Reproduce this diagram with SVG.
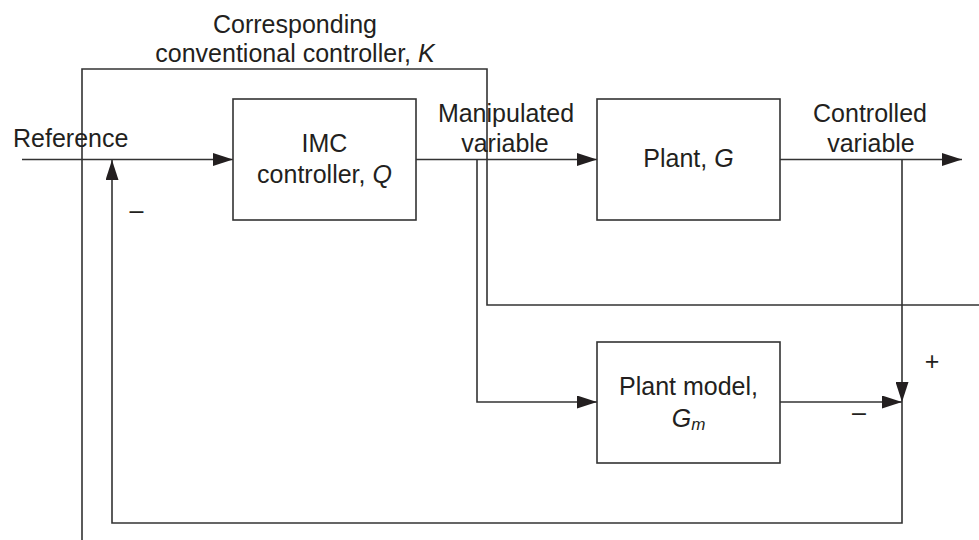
<svg xmlns="http://www.w3.org/2000/svg" width="979" height="540" viewBox="0 0 979 540">
<defs>
<marker id="ah" markerUnits="userSpaceOnUse" markerWidth="20" markerHeight="13" refX="20" refY="6.5" orient="auto">
<path d="M0,0 L20,6.5 L0,13 z" fill="#231f20"/>
</marker>
<style>
.ln{fill:none;stroke:#333;stroke-width:1.6}
.bx{fill:#fff;stroke:#333;stroke-width:1.6}
.t{font-family:"Liberation Sans",Arial,sans-serif;font-size:25px;fill:#231f20}
.c{text-anchor:middle}
.i{font-style:italic}
</style>
</defs>
<rect width="979" height="540" fill="#fff"/>
<g id="K">
<path class="ln" d="M82,540 V69 H487 V305 H979"/>
<text class="t c" x="295" y="33">Corresponding</text>
<text class="t c" x="295" y="62">conventional controller, <tspan class="i">K</tspan></text>
</g>
<g id="connectors">
<path class="ln" d="M22,159.5 H233" marker-end="url(#ah)"/>
<path class="ln" d="M416,159.5 H597" marker-end="url(#ah)"/>
<path class="ln" d="M780,159.5 H962" marker-end="url(#ah)"/>
<path class="ln" d="M477,159.5 V402 H597" marker-end="url(#ah)"/>
<path class="ln" d="M780,402 H902" marker-end="url(#ah)"/>
<path class="ln" d="M902,159.5 V402" marker-end="url(#ah)"/>
<path class="ln" d="M902,402 V523 H112 V160" marker-end="url(#ah)"/>
</g>
<g id="labels">
<text class="t" x="13" y="147">Reference</text>
<text class="t c" x="506" y="122">Manipulated</text>
<text class="t c" x="505" y="152">variable</text>
<text class="t c" x="870" y="122">Controlled</text>
<text class="t c" x="871" y="152">variable</text>
<text class="t c" x="136.5" y="219">–</text>
<text class="t c" x="859" y="421">–</text>
<text class="t c" x="932" y="370">+</text>
</g>
<g id="imc">
<rect class="bx" x="233" y="99" width="183" height="121"/>
<text class="t c" x="324.5" y="152">IMC</text>
<text class="t c" x="324.5" y="183">controller, <tspan class="i">Q</tspan></text>
</g>
<g id="plant">
<rect class="bx" x="597" y="99" width="183" height="121"/>
<text class="t c" x="688.5" y="167">Plant, <tspan class="i">G</tspan></text>
</g>
<g id="plant-model">
<rect class="bx" x="597" y="342" width="183" height="121"/>
<text class="t c" x="688.5" y="395">Plant model,</text>
<text class="t c" x="688.5" y="427"><tspan class="i">G</tspan><tspan class="i" font-size="17" dy="3">m</tspan></text>
</g>
</svg>
